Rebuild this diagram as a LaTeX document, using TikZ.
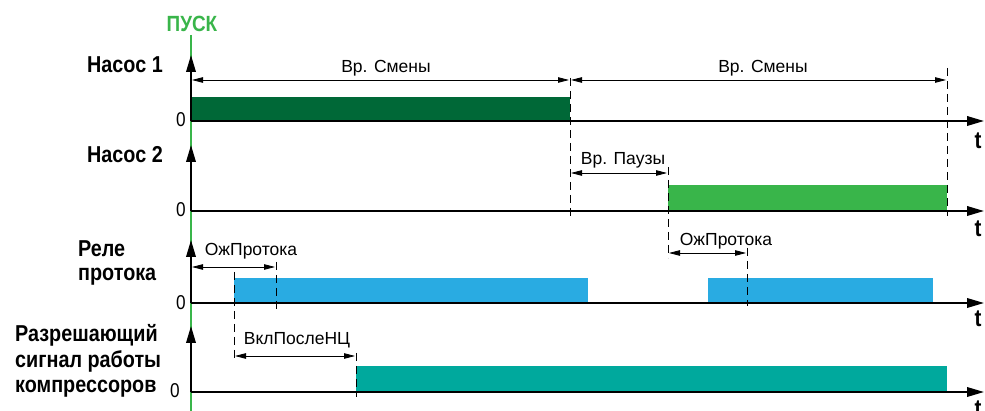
\documentclass[tikz,border=0pt]{standalone}
\usepackage{fontspec}
\setmainfont{Liberation Sans}
\newfontfamily\narrowfont{Liberation Sans}[FakeStretch=0.86]
\usetikzlibrary{arrows.meta}

\definecolor{pumpone}{HTML}{006837}
\definecolor{pumptwo}{HTML}{39B54A}
\definecolor{flowblue}{HTML}{29ABE2}
\definecolor{comprteal}{HTML}{00A99D}
\definecolor{startgreen}{HTML}{39B54A}

\begin{document}
\begin{tikzpicture}[x=1pt,y=-1pt,
  axis/.style={line width=2pt,-{Triangle[length=17pt,width=9.5pt]}},
  dimline/.style={line width=0.8pt,shorten <=1pt,shorten >=1pt,
    {Triangle[length=11pt,width=5.5pt]}-{Triangle[length=11pt,width=5.5pt]}},
  guide/.style={line width=0.9pt,dash pattern=on 8pt off 5pt},
  sigtitle/.style={anchor=base west,inner sep=0pt,
    font=\narrowfont\bfseries\fontsize{23}{25}\selectfont},
  zero/.style={anchor=base,inner sep=0pt,font=\narrowfont\fontsize{20}{22}\selectfont},
  tlabel/.style={anchor=base,inner sep=0pt,font=\narrowfont\bfseries\fontsize{24}{26}\selectfont},
  dimtext/.style={anchor=base,inner sep=0pt,font=\fontsize{17.5}{20}\selectfont}
]
\useasboundingbox (0,0) rectangle (985,411);

% ---- signal levels ----
\fill[pumpone]   (191,97)  rectangle (570,121);
\fill[pumptwo]   (668,185) rectangle (947,211);
\fill[flowblue]  (234,278) rectangle (588,303);
\fill[flowblue]  (708,278) rectangle (933,303);
\fill[comprteal] (356,366) rectangle (947,392);

% ---- start marker ----
\coordinate (startTop) at (191,35);
\coordinate (startBot) at (191,415);
\draw[startgreen,line width=2pt] (startTop) -- (startBot);
\node[anchor=base,inner sep=0pt,text=startgreen,
  font=\narrowfont\bfseries\fontsize{22}{24}\selectfont] (start) at (192,32) {ПУСК};

% ---- axes ----
\foreach \nm/\y/\top in {pA/121/55, pB/211/145, rel/303/240, cmp/392/326}{
  \coordinate (\nm O) at (191,\y);
  \coordinate (\nm Y) at (191,\top);
  \coordinate (\nm X) at (984,\y);
  \draw[axis] (\nm O) -- (\nm Y);
  \draw[axis] (\nm O) -- (\nm X);
}

% ---- guide lines ----
\coordinate (gA1) at (570,78);  \coordinate (gA2) at (570,218);
\coordinate (gB1) at (947,68);  \coordinate (gB2) at (947,216);
\coordinate (gC1) at (668,167); \coordinate (gC2) at (668,258);
\coordinate (gD1) at (234,272); \coordinate (gD2) at (234,360);
\coordinate (gE1) at (276,262); \coordinate (gE2) at (276,310);
\coordinate (gF1) at (747,248); \coordinate (gF2) at (747,306);
\coordinate (gG1) at (356,353); \coordinate (gG2) at (356,397);
\foreach \g in {A,B,C,D,E,F,G}{\draw[guide] (g\g1) -- (g\g2);}

% ---- time intervals ----
\coordinate (chg0) at (191,80); \coordinate (chg1) at (570,80); \coordinate (chg2) at (947,80);
\draw[dimline] (chg0) -- (chg1);
\draw[dimline] (chg1) -- (chg2);
\node[dimtext] (chgTxtA) at (386,73) {Вр. Смены};
\node[dimtext] (chgTxtB) at (763,73) {Вр. Смены};

\coordinate (pau0) at (570,173); \coordinate (pau1) at (668,173);
\draw[dimline] (pau0) -- (pau1);
\node[dimtext] (pauTxt) at (623,165) {Вр. Паузы};

\coordinate (flA0) at (191,267); \coordinate (flA1) at (276,267);
\draw[dimline] (flA0) -- (flA1);
\node[dimtext] (flTxtA) at (251,256) {ОжПротока};

\coordinate (flB0) at (668,253); \coordinate (flB1) at (747,253);
\draw[dimline] (flB0) -- (flB1);
\node[dimtext] (flTxtB) at (726,246) {ОжПротока};

\coordinate (ncA) at (234,356); \coordinate (ncB) at (356,356);
\draw[dimline] (ncA) -- (ncB);
\node[dimtext] (ncTxt) at (297,345) {ВклПослеНЦ};

% ---- signal names ----
\node[sigtitle] (nPumpA) at (87,73)  {Насос 1};
\node[sigtitle] (nPumpB) at (87,163) {Насос 2};
\node[sigtitle] (nRelA)  at (78,257) {Реле};
\node[sigtitle] (nRelB)  at (78,281) {протока};
\node[sigtitle] (nCmpA)  at (15,342) {Разрешающий};
\node[sigtitle] (nCmpB)  at (15,367) {сигнал работы};
\node[sigtitle] (nCmpC)  at (15,392) {компрессоров};

% ---- zero levels ----
\node[zero] (zA) at (181,127) {0};
\node[zero] (zB) at (181,217) {0};
\node[zero] (zC) at (181,310) {0};
\node[zero] (zD) at (175,397) {0};

% ---- time axis names ----
\node[tlabel] (tA) at (978,149) {t};
\node[tlabel] (tB) at (978,237) {t};
\node[tlabel] (tC) at (978,327) {t};
\node[tlabel] (tD) at (978,416) {t};
\end{tikzpicture}
\end{document}
